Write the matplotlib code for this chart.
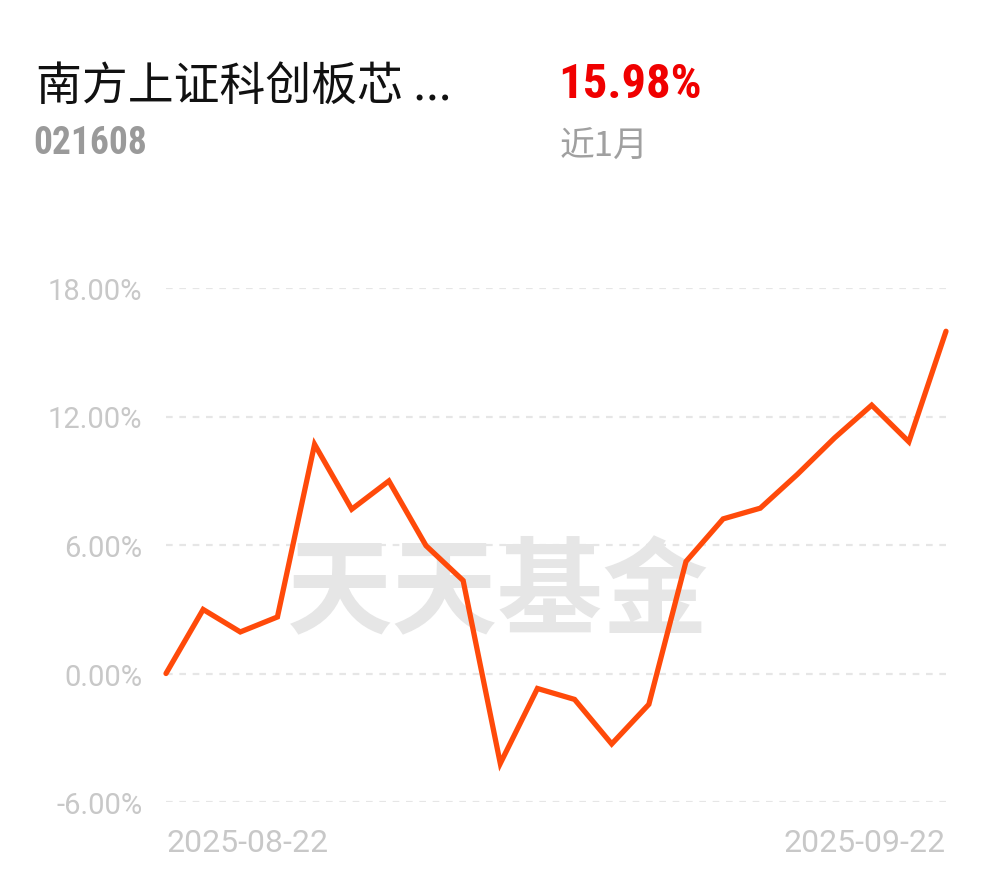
import numpy as np
import matplotlib
matplotlib.use("Agg")
import matplotlib.pyplot as plt

# 近1月累计收益率(%)
rendimiento = [0.00, 2.99, 1.94, 2.64, 10.70, 7.67, 8.99, 5.97, 4.34, -4.20,
               -0.70, -1.21, -3.29, -1.44, 5.23, 7.22, 7.72, 9.30, 11.00, 12.53,
               10.82, 15.98]
ticks_y = [-6, 0, 6, 12, 18]
fecha_ini = "2025-08-22"
fecha_fin = "2025-09-22"
titulo = "南方上证科创板芯 ..."
codigo = "021608"
ganancia = "15.98%"
periodo = "近1月"

W, H = 990, 878
fig = plt.figure(figsize=(W / 100, H / 100), dpi=100)
fig.patch.set_facecolor("white")

cjk = ["Noto Sans CJK SC", "DejaVu Sans"]
cond = ["Roboto Condensed", "Roboto", "DejaVu Sans"]
num = ["Roboto", "DejaVu Sans"]

# ejes: x de 166 a 946 px, y de 289 (18%) a 803 (-6%)
ax = fig.add_axes([166 / W, 1 - 803 / H, (946 - 166) / W, (803 - 289) / H])
ax.set_xlim(0, len(rendimiento) - 1)
ax.set_ylim(-6, 18)
for s in ax.spines.values():
    s.set_visible(False)
ax.set_xticks([])
ax.set_yticks(ticks_y)
ax.set_yticklabels([f"{t:.2f}%" for t in ticks_y], family=num, fontsize=21,
                   color="#c8c8c8")
ax.tick_params(axis="y", length=0, pad=17)
for t in ticks_y:
    ax.axhline(t, color="#e6e6e6", lw=1.6, ls=(0, (3, 3)), zorder=1)

# marca de agua
ax.text(0.425, 0.405, "天天基金", transform=ax.transAxes, ha="center", va="center",
        fontsize=76, family=cjk, fontweight="bold", color="#e6e6e6", zorder=0)

x = np.arange(len(rendimiento))
ax.plot(x, rendimiento, color="#ff4a0a", lw=3.8, solid_joinstyle="miter",
        solid_capstyle="round", clip_on=False, zorder=3)

ax.text(0, -0.078, fecha_ini, transform=ax.transAxes, ha="left", va="center",
        family=num, fontsize=23, color="#c8c8c8")
ax.text(1, -0.078, fecha_fin, transform=ax.transAxes, ha="right", va="center",
        family=num, fontsize=23, color="#c8c8c8")

# cabecera
fig.text(36 / W, 1 - 87 / H, titulo, ha="left", va="center", family=cjk,
         fontsize=33, color="#111111")
fig.text(33 / W, 1 - 144 / H, codigo, ha="left", va="center", family=cond,
         fontsize=27, fontweight="bold", color="#9a9a9a")
fig.text(558 / W, 1 - 85 / H, ganancia, ha="left", va="center", family=cond,
         fontsize=35, fontweight="bold", color="#f00000")
fig.text(560 / W, 1 - 147 / H, periodo, ha="left", va="center", family=cjk,
         fontsize=25, color="#a0a0a0")

fig.savefig("out.png", dpi=100, facecolor="white")
